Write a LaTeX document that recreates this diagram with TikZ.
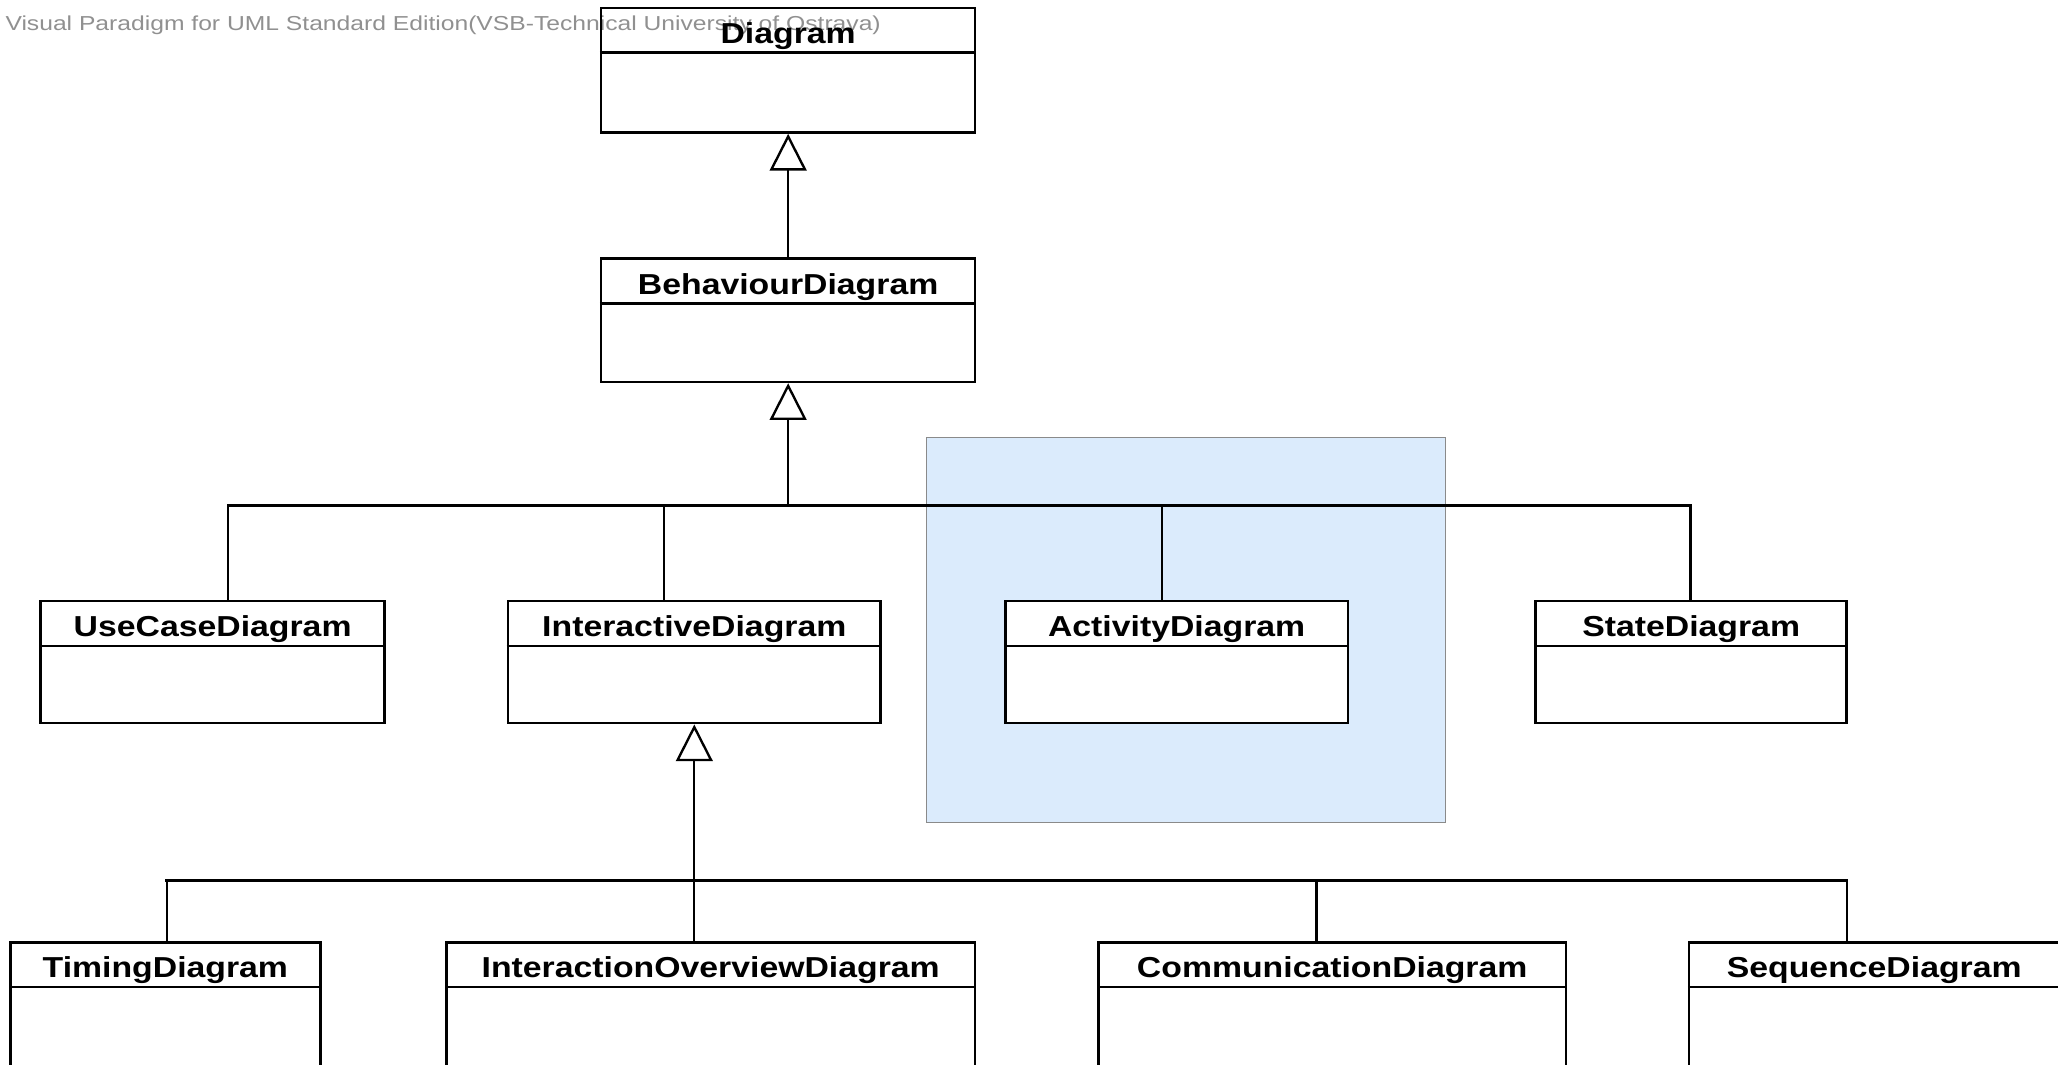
\documentclass[tikz,border=0pt]{standalone}
\usepackage{fontspec}
\setmainfont{Liberation Sans}
\newfontfamily\classfont[FakeStretch=1.17]{Liberation Sans Bold}
\newfontfamily\markfont[FakeStretch=1.22]{Liberation Sans}
\usetikzlibrary{arrows.meta,calc}
\definecolor{notefill}{HTML}{DBEBFC}
\definecolor{noteline}{HTML}{8A8A8A}
\definecolor{markgray}{HTML}{909090}
\tikzset{
  classbox/.style={draw, line width=1.9pt, fill=white, inner sep=0pt},
  classname/.style={font=\classfont\fontsize{22}{26}\selectfont, anchor=base, inner sep=0pt},
  link/.style={line width=1.6pt, line cap=rect},
  bus/.style={line width=2.2pt, line cap=rect},
  gen/.style={line width=1.6pt, -{Triangle[length=28pt, width=28pt, fill=white, line width=1.8pt]}},
}
% draws the compartment line and the name of a class box
\newcommand{\classhead}[2]{%
  \draw[line width=1.9pt] ([yshift=-35pt]#1.north west) -- ([yshift=-35pt]#1.north east);
  \node[classname] (#1-name) at ([yshift=-28pt]#1.north) {#2};
}
\begin{document}
\begin{tikzpicture}[x=1pt, y=-1pt]
\useasboundingbox (0,0) rectangle (1568,811);
\clip (0,0) rectangle (1568,811);

% highlighted region behind ActivityDiagram
\draw[fill=notefill, draw=noteline, line width=0.8pt] (706,333) rectangle (1101,627);

% tool banner
\node[anchor=base west, inner sep=0pt, text=markgray, font=\markfont\fontsize{15.4}{18}\selectfont] (banner) at (4,23.5) {Visual Paradigm for UML Standard Edition(VSB-Technical University of Ostrava)};

% class boxes
\node[classbox, fill=none, minimum width=285pt, minimum height=95pt] (diagram) at (600.5,53.5) {};
\node[classbox, minimum width=285pt, minimum height=94pt] (behav) at (600.5,244) {};
\node[classbox, minimum width=262pt, minimum height=93pt] (usecase) at (162,504.5) {};
\node[classbox, minimum width=284pt, minimum height=93pt] (inter) at (529,504.5) {};
\node[classbox, minimum width=261pt, minimum height=93pt] (activity) at (896.5,504.5) {};
\node[classbox, minimum width=237pt, minimum height=93pt] (state) at (1288.5,504.5) {};
\node[classbox, minimum width=236pt, minimum height=94pt] (timing) at (126,765) {};
\node[classbox, minimum width=403pt, minimum height=94pt] (overview) at (541.5,765) {};
\node[classbox, minimum width=356pt, minimum height=94pt] (comm) at (1015,765) {};
\node[classbox, minimum width=282pt, minimum height=94pt] (sequence) at (1428,765) {};

\classhead{diagram}{Diagram}
\classhead{behav}{BehaviourDiagram}
\classhead{usecase}{UseCaseDiagram}
\classhead{inter}{InteractiveDiagram}
\classhead{activity}{ActivityDiagram}
\classhead{state}{StateDiagram}
\classhead{timing}{TimingDiagram}
\classhead{overview}{InteractionOverviewDiagram}
\classhead{comm}{CommunicationDiagram}
\classhead{sequence}{SequenceDiagram}

% BehaviourDiagram specialises Diagram
\draw[gen] (behav.north) -- (diagram.south);

% first generalization tree
\coordinate (bus1) at (600.5,385);
\coordinate (d-usecase) at ([xshift=12pt]usecase.north);
\coordinate (d-inter) at ([xshift=-23pt]inter.north);
\coordinate (d-activity) at ([xshift=-11.5pt]activity.north);
\coordinate (d-state) at ([xshift=-0.5pt]state.north);
\draw[gen] (bus1) -- (behav.south);
\draw[bus] (d-usecase |- bus1) -- (d-state |- bus1);
\draw[link] (d-usecase) -- (d-usecase |- bus1);
\draw[link] (d-inter) -- (d-inter |- bus1);
\draw[link] (d-activity) -- (d-activity |- bus1);
\draw[link] (d-state) -- (d-state |- bus1);

% second generalization tree
\coordinate (bus2) at (529,671);
\coordinate (d-timing) at ([xshift=1pt]timing.north);
\coordinate (d-overview) at ([xshift=-12.5pt]overview.north);
\coordinate (d-comm) at ([xshift=-12pt]comm.north);
\coordinate (d-sequence) at ([xshift=-21pt]sequence.north);
\draw[gen] (bus2) -- (inter.south);
\draw[bus] (d-timing |- bus2) -- (d-sequence |- bus2);
\draw[link] (d-timing) -- (d-timing |- bus2);
\draw[link] (d-overview) -- (d-overview |- bus2);
\draw[link] (d-comm) -- (d-comm |- bus2);
\draw[link] (d-sequence) -- (d-sequence |- bus2);
\end{tikzpicture}
\end{document}
